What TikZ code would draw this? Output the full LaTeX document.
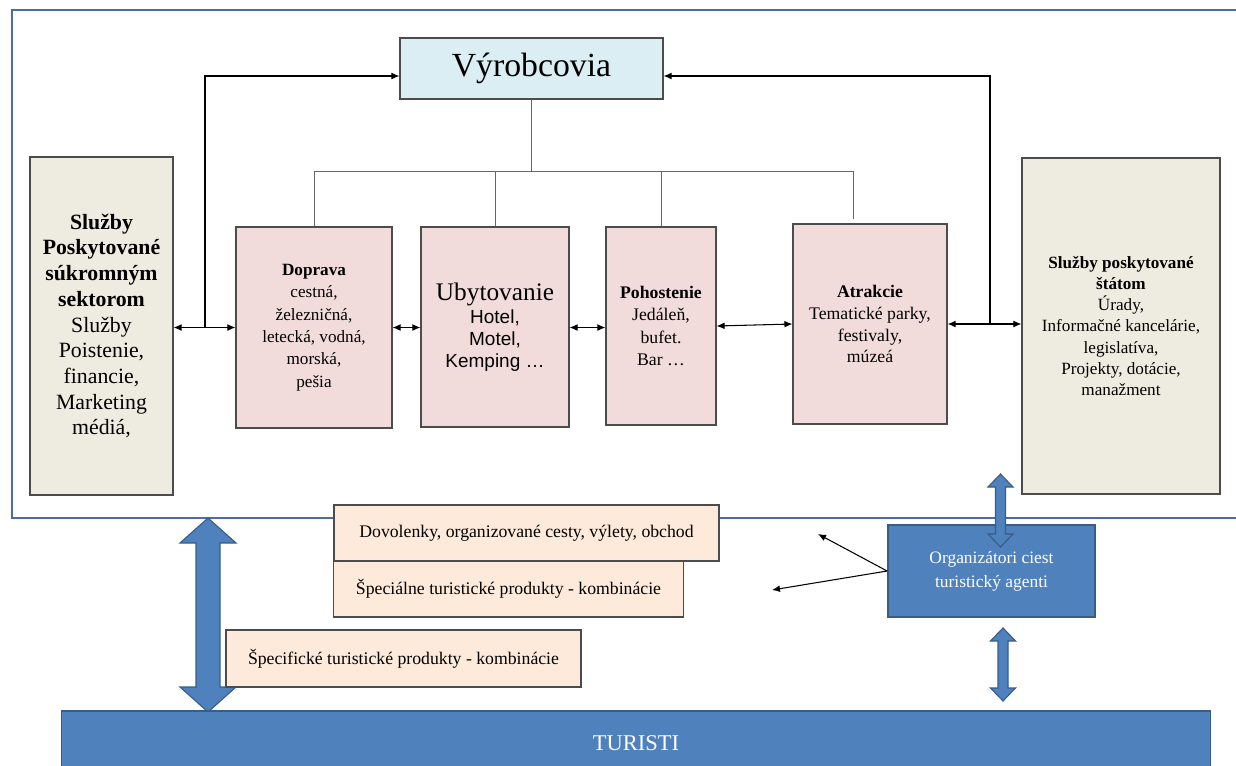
\documentclass[tikz,border=0pt]{standalone}
\usepackage{fontspec}
\setmainfont{Liberation Serif}
\newfontfamily\arialfont{Liberation Sans}
\usetikzlibrary{arrows.meta}

\definecolor{framecol}{HTML}{4A6DA7}
\definecolor{sectorfill}{HTML}{EEECE1}
\definecolor{branchfill}{HTML}{F2DCDB}
\definecolor{makerfill}{HTML}{DBEEF4}
\definecolor{productfill}{HTML}{FDEADA}
\definecolor{agentblue}{HTML}{4F81BD}
\definecolor{agentedge}{HTML}{385D8A}

\def\px{0.025cm}

% x, top tip, bottom tip, shaft half width, head half width, head length
\newcommand{\blockarrow}[6]{%
  \draw[blockarr] (#1,#2) -- (#1+#5,#2+#6) -- (#1+#4,#2+#6) -- (#1+#4,#3-#6)
    -- (#1+#5,#3-#6) -- (#1,#3) -- (#1-#5,#3-#6) -- (#1-#4,#3-#6)
    -- (#1-#4,#2+#6) -- (#1-#5,#2+#6) -- cycle;}

\tikzset{
  boxsize/.style 2 args={minimum width=#1*\px, minimum height=#2*\px},
  box/.style={draw=black!70, line width=0.8pt, inner sep=0pt, align=center},
  sector/.style={box, fill=sectorfill},
  branch/.style={box, fill=branchfill, font=\fontsize{12.2}{15.9}\selectfont},
  product/.style={box, fill=productfill, font=\fontsize{12.6}{15}\selectfont},
  agent/.style={draw=agentedge, fill=agentblue, text=white, line width=1.3pt,
    inner sep=0pt, align=center},
  link/.style={{Latex[length=2mm,width=1.7mm]}-{Latex[length=2mm,width=1.7mm]}, line width=0.75pt},
  onelink/.style={-{Latex[length=2mm,width=1.7mm]}, line width=0.75pt},
  tree/.style={draw=black!60, line width=0.7pt},
  blockarr/.style={fill=agentblue, draw=agentedge, line width=0.8pt},
}

\begin{document}
\begin{tikzpicture}[x=\px, y=-\px]
  \useasboundingbox[fill=white] (0,0) rectangle (1236,765);

  % outer frame
  \draw[framecol, line width=1.4pt] (1240,10) -- (12,10) -- (12,518) -- (1240,518);

  % producers
  \node[box, fill=makerfill, boxsize={263}{61}, font=\fontsize{24}{27}\selectfont]
    (vyrobcovia) at (531.5,68.5) {Výrobcovia};

  % sectors
  \node[sector, boxsize={143}{338}, font=\fontsize{15.5}{18.3}\selectfont]
    (sukromne) at (101.5,326)
    {\textbf{Služby}\\\textbf{Poskytované}\\\textbf{súkromným}\\\textbf{sektorom}\\
     Služby\\Poistenie,\\financie,\\Marketing\\médiá,};
  \node[sector, boxsize={198}{336}, font=\fontsize{12.2}{15}\selectfont]
    (statne) at (1121,326)
    {\textbf{Služby poskytované}\\\textbf{štátom}\\Úrady,\\Informačné kancelárie,\\
     legislatíva,\\Projekty, dotácie,\\manažment};

  % branches
  \node[branch, boxsize={156}{201}] (doprava) at (314,327.5)
    {\textbf{Doprava}\\cestná,\\železničná,\\letecká, vodná,\\morská,\\pešia};
  \node[branch, boxsize={148}{200}, font=\arialfont\fontsize{13.5}{15.4}\selectfont]
    (ubytovanie) at (495,327)
    {{\rmfamily\fontsize{18}{20}\selectfont Ubytovanie}\\[1pt]Hotel,\\Motel,\\Kemping …};
  \node[branch, boxsize={110}{198}, font=\fontsize{12.6}{15.9}\selectfont]
    (pohostenie) at (661,326)
    {\textbf{Pohostenie}\\Jedáleň,\\bufet.\\Bar …};
  \node[branch, boxsize={154}{200}, font=\fontsize{12.6}{15.6}\selectfont]
    (atrakcie) at (870,324)
    {\textbf{Atrakcie}\\Tematické parky,\\festivaly,\\múzeá};

  % tree from producers
  \coordinate (bus) at (0,171);
  \coordinate (atrdrop) at (853,219);
  \draw[tree] (vyrobcovia.south) -- (vyrobcovia.south |- bus);
  \draw[tree] (doprava.north |- bus) -- (atrdrop |- bus) -- (atrdrop);
  \foreach \n in {doprava, ubytovanie, pohostenie}
    \draw[tree] (\n.north) -- (\n.north |- bus);

  % links between the boxes
  \coordinate (topline) at (0,76);
  \coordinate (lfork) at (205,0);
  \coordinate (rfork) at (990,0);
  \draw[link] (sukromne.east |- doprava.west) -- (doprava.west);
  \draw[onelink] (lfork |- doprava.west) |- (vyrobcovia.west |- topline);
  \draw[link] (doprava.east) -- (doprava.east -| ubytovanie.west);
  \draw[link] (ubytovanie.east |- doprava.east) -- (pohostenie.west |- doprava.east);
  \draw[link] (pohostenie.east) -- (atrakcie.west);
  \draw[link] (atrakcie.east) -- (statne.west |- atrakcie.east);
  \draw[onelink] (rfork |- atrakcie.east) |- (vyrobcovia.east |- topline);

  % products
  \blockarrow{208}{518}{712}{12}{28}{25}
  \node[product, boxsize={385}{56}] (dovolenky) at (526.5,533)
    {Dovolenky, organizované cesty, výlety, obchod};
  \node[product, boxsize={350}{56}] (specialne) at (508.5,589)
    {Špeciálne turistické produkty - kombinácie};
  \node[product, boxsize={355}{57}] (specificke) at (403.5,658.5)
    {Špecifické turistické produkty - kombinácie};

  % agents
  \node[agent, boxsize={207}{92}, font=\fontsize{12.4}{17}\selectfont]
    (organizatori) at (991.5,571) {Organizátori ciest\\turistický agenti};
  \coordinate (todov) at (818,534);
  \coordinate (tospec) at (772,590);
  \draw[onelink] (organizatori.west) -- (todov);
  \draw[onelink] (organizatori.west) -- (tospec);
  \blockarrow{1000.5}{474}{547}{5}{12.5}{13}
  \blockarrow{1003}{628}{701}{5}{12.5}{13}

  % tourists
  \node[agent, boxsize={1149}{64}, font=\fontsize{16}{18}\selectfont]
    (turisti) at (636,743) {TURISTI};
\end{tikzpicture}
\end{document}
